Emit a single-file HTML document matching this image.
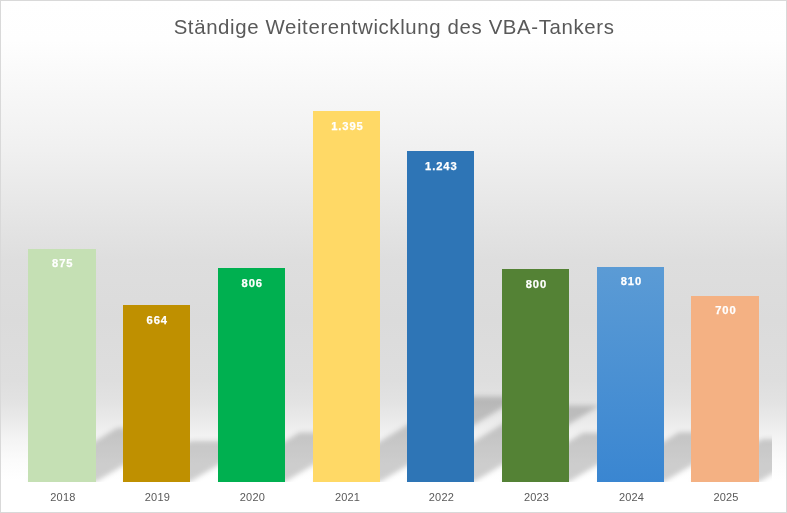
<!DOCTYPE html>
<html lang="de">
<head>
<meta charset="utf-8">
<title>Ständige Weiterentwicklung des VBA-Tankers</title>
<style>
html,body{margin:0;padding:0;}
body{width:787px;height:513px;overflow:hidden;background:#fff;font-family:"Liberation Sans",sans-serif;}
#chart{position:relative;width:787px;height:513px;box-sizing:border-box;overflow:hidden;
 background:linear-gradient(to bottom,#ffffff 0px,#fefefe 41px,#f0f0f0 150px,#dedede 260px,#dbdbdb 320px,#dedede 380px,#e2e2e2 400px,#eaeaea 420px,#f4f4f4 440px,#fbfbfb 460px,#ffffff 480px,#ffffff 513px);}
#frame{position:absolute;left:0;top:0;width:785px;height:511px;border:1px solid #d9d9d9;z-index:9;}
#title{position:absolute;left:0.6px;top:12.8px;width:787px;text-align:center;font-size:20.4px;line-height:28px;letter-spacing:.63px;color:#595959;white-space:nowrap;}
#plot{position:absolute;left:14.6px;top:56.0px;width:757.8px;height:425.7px;overflow:hidden;}
.bar{position:absolute;}
.dl{position:absolute;width:80px;text-align:center;color:#fff;font-weight:bold;font-size:11.2px;line-height:14px;letter-spacing:.9px;padding-left:.9px;-webkit-text-stroke:.25px #fff;}
.ax{position:absolute;top:490px;width:80px;padding-left:1px;text-align:center;color:#595959;font-size:11px;line-height:14px;letter-spacing:.15px;}
</style>
</head>
<body>
<div id="chart">
 <div id="title">Ständige Weiterentwicklung des VBA-Tankers</div>
 <div id="plot">
  <svg width="757.8" height="425.7" viewBox="0 0 757.8 425.7" style="position:absolute;left:0;top:0;overflow:hidden">
   <defs><filter id="bl" x="-50%" y="-50%" width="200%" height="200%"><feGaussianBlur stdDeviation="2.7"/></filter></defs>
   <g fill="#000" fill-opacity="0.19">
    <polygon filter="url(#bl)" points="13.4,425.7 81.2,425.7 169.8,372.1 102.0,372.1"/>
    <polygon filter="url(#bl)" points="108.4,425.7 175.3,425.7 242.4,385.1 175.5,385.1"/>
    <polygon filter="url(#bl)" points="203.3,425.7 270.3,425.7 351.5,376.5 284.5,376.5"/>
    <polygon filter="url(#bl)" points="298.4,425.7 365.5,425.7 506.4,340.4 439.3,340.4"/>
    <polygon filter="url(#bl)" points="392.4,425.7 459.3,425.7 585.0,349.6 518.1,349.6"/>
    <polygon filter="url(#bl)" points="487.4,425.7 554.3,425.7 635.1,376.8 568.2,376.8"/>
    <polygon filter="url(#bl)" points="582.4,425.7 649.3,425.7 731.0,376.3 664.1,376.3"/>
    <polygon filter="url(#bl)" points="676.4,425.7 744.4,425.7 815.0,382.9 747.0,382.9"/>
   </g>
  </svg>
 </div>
 <div class="bar" style="left:28.0px;top:248.6px;width:67.8px;height:233.1px;background:#c5e0b4"></div>
 <div class="bar" style="left:123.0px;top:305.0px;width:66.9px;height:176.7px;background:#bf9000"></div>
 <div class="bar" style="left:217.9px;top:267.9px;width:67.0px;height:213.8px;background:#00b050"></div>
 <div class="bar" style="left:313.0px;top:111.0px;width:67.1px;height:370.7px;background:#ffd966"></div>
 <div class="bar" style="left:407.0px;top:151.0px;width:66.9px;height:330.7px;background:#2e75b6"></div>
 <div class="bar" style="left:502.0px;top:269.0px;width:66.9px;height:212.7px;background:#548235"></div>
 <div class="bar" style="left:597.0px;top:266.8px;width:66.9px;height:214.9px;background:linear-gradient(to bottom,#5b9bd5,#3a86d1)"></div>
 <div class="bar" style="left:691.0px;top:295.8px;width:68.0px;height:185.9px;background:#f4b183"></div>
 <div class="dl" style="left:21.9px;top:256.2px">875</div>
 <div class="dl" style="left:116.4px;top:312.6px">664</div>
 <div class="dl" style="left:211.4px;top:275.5px">806</div>
 <div class="dl" style="left:306.6px;top:118.6px">1.395</div>
 <div class="dl" style="left:400.4px;top:158.6px">1.243</div>
 <div class="dl" style="left:495.5px;top:276.6px">800</div>
 <div class="dl" style="left:590.5px;top:274.4px">810</div>
 <div class="dl" style="left:685.0px;top:303.4px">700</div>
 <div class="ax" style="left:21.9px">2018</div>
 <div class="ax" style="left:116.4px">2019</div>
 <div class="ax" style="left:211.4px">2020</div>
 <div class="ax" style="left:306.6px">2021</div>
 <div class="ax" style="left:400.4px">2022</div>
 <div class="ax" style="left:495.5px">2023</div>
 <div class="ax" style="left:590.5px">2024</div>
 <div class="ax" style="left:685.0px">2025</div>
 <div id="frame"></div>
</div>
</body>
</html>
